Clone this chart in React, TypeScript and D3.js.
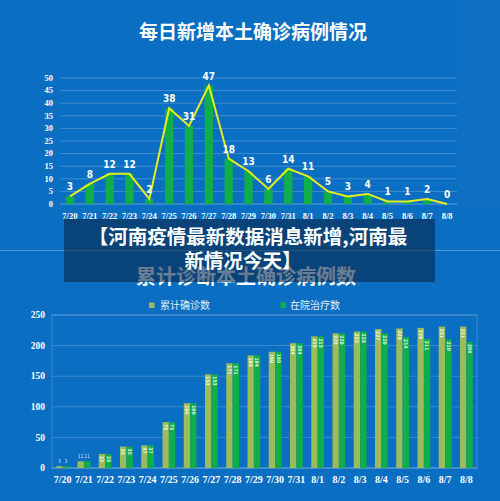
import React from "react";
import * as d3 from "d3";

const dates = ["7/20","7/21","7/22","7/23","7/24","7/25","7/26","7/27","7/28","7/29","7/30","7/31","8/1","8/2","8/3","8/4","8/5","8/6","8/7","8/8"];
const dailyNew = [3,8,12,12,2,38,31,47,18,13,6,14,11,5,3,4,1,1,2,0];
const cumulative = [3,11,23,35,37,75,106,153,171,184,190,204,215,220,223,227,228,229,231,231];
const inHospital = [3,11,23,35,37,75,106,153,171,184,190,204,215,220,223,220,214,211,210,206];
const topTicks = [0,5,10,15,20,25,30,35,40,45,50];
const bottomTicks = [0,50,100,150,200,250];
const titleTop = "每日新增本土确诊病例情况";
const titleBottom = "累计诊断本土确诊病例数";
const legendNames = ["累计确诊数", "在院治疗数"];
const bannerLines = ["【河南疫情最新数据消息新增,河南最", "新情况今天】"];

const BG = "#0a6ec2";
const GREEN = "#0fae4b";
const OLIVE = "#9cbb5a";
const YELLOW = "#e6ef1e";
const SERIF = "'Liberation Serif', 'DejaVu Serif', serif";
const NARROW = "'DejaVu Sans Condensed', 'DejaVu Sans', sans-serif";
const CJK = "'Noto Sans CJK SC', sans-serif";

export default function App() {
  const W = 500, H = 501;
  const xTop = d3.scaleBand<string>().domain(dates).range([60, 457]);
  const yTop = d3.scaleLinear().domain([0, 50]).range([204, 78]);
  const xBot = d3.scaleBand<string>().domain(dates).range([52, 477]);
  const yBot = d3.scaleLinear().domain([0, 250]).range([468, 315]);

  const lineGen = d3.line<number>()
    .x((_, i) => (xTop(dates[i]) as number) + xTop.bandwidth() / 2)
    .y((d) => yTop(d));

  const topBarW = xTop.bandwidth() * 0.42;
  const botBarW = xBot.bandwidth() * 0.3;

  const barLabel = (x: number, top: number, v: number, key: string) => {
    const h = yBot(0) - top;
    if (h < 14) {
      return (
        <text key={key} x={x} y={top - 3} fontSize={5} fill="#fff" fillOpacity={0.85}
          textAnchor="middle" fontFamily={NARROW}>{v}</text>
      );
    }
    return (
      <text key={key} transform={`translate(${x - 1.8},${top + 2}) rotate(90)`} fontSize={5}
        fill="#fff" fillOpacity={0.9} fontFamily={NARROW} fontWeight="bold">{v}</text>
    );
  };

  return (
    <svg width={W} height={H} style={{ position: "absolute", left: 0, top: 0 }}>
      <rect x={0} y={0} width={W} height={H} fill={BG} />
      <rect x={457} y={0} width={43} height={210} fill="#ffffff" fillOpacity={0.02} />

      <text x={253} y={39} textAnchor="middle" fontSize={19} fontWeight="bold" fill="#fff"
        fontFamily={CJK}>{titleTop}</text>

      {topTicks.map((t) => (
        <g key={"tg" + t}>
          <line x1={60} x2={457} y1={yTop(t)} y2={yTop(t)} stroke="#ffffff"
            strokeOpacity={t === 0 ? 0.35 : 0.22} strokeWidth={1} />
          <text x={53} y={yTop(t)} dy="0.33em" textAnchor="end" fontSize={8.5}
            fontWeight="bold" fill="#fff" fontFamily={SERIF}>{t}</text>
        </g>
      ))}

      {dailyNew.map((v, i) => {
        const cx = (xTop(dates[i]) as number) + xTop.bandwidth() / 2;
        return (
          <rect key={"tb" + i} x={cx - topBarW / 2} y={yTop(v)} width={topBarW}
            height={yTop(0) - yTop(v)} fill={GREEN} />
        );
      })}
      <path d={lineGen(dailyNew) || ""} fill="none" stroke={YELLOW} strokeWidth={2} />
      {dailyNew.map((v, i) => {
        const cx = (xTop(dates[i]) as number) + xTop.bandwidth() / 2;
        return (
          <text key={"tl" + i} x={cx} y={yTop(v) - 6} textAnchor="middle" fontSize={10}
            fontWeight="bold" fill="#fff" fontFamily={NARROW} style={{ fontStretch: "condensed" }}>{v}</text>
        );
      })}
      {dates.map((d) => (
        <text key={"tx" + d} x={(xTop(d) as number) + xTop.bandwidth() / 2} y={219}
          textAnchor="middle" fontSize={8.5} fontWeight="bold" fill="#fff"
          fontFamily={SERIF}>{d}</text>
      ))}

      <line x1={0} x2={W} y1={250.5} y2={250.5} stroke="#ffffff" strokeOpacity={0.3} />

      <text x={246} y={284} textAnchor="middle" fontSize={20} fontWeight="bold" fill="#fff"
        fontFamily={CJK}>{titleBottom}</text>

      <rect x={149} y={302.5} width={5.5} height={5.5} fill={OLIVE} />
      <text x={160} y={309} fontSize={10} fill="#e6eef8" fontFamily={CJK}>{legendNames[0]}</text>
      <rect x={280.5} y={302.5} width={5.5} height={5.5} fill={GREEN} />
      <text x={290} y={309} fontSize={10} fill="#e6eef8" fontFamily={CJK}>{legendNames[1]}</text>

      <rect x={52} y={315} width={425} height={153} fill="none" stroke="#ffffff" strokeOpacity={0.2} />
      {bottomTicks.map((t) => (
        <g key={"bg" + t}>
          <line x1={52} x2={477} y1={yBot(t)} y2={yBot(t)} stroke="#ffffff"
            strokeOpacity={t === 0 ? 0.3 : 0.2} />
          <text x={45} y={yBot(t)} dy="0.33em" textAnchor="end" fontSize={9.5}
            fontWeight="bold" fill="#fff" fontFamily={SERIF}>{t}</text>
        </g>
      ))}
      {dates.map((d, i) => {
        const cx = (xBot(d) as number) + xBot.bandwidth() / 2;
        const c = cumulative[i], h = inHospital[i];
        return (
          <g key={"bb" + i}>
            <rect x={cx - botBarW} y={yBot(c)} width={botBarW} height={yBot(0) - yBot(c)} fill={OLIVE} />
            <rect x={cx} y={yBot(h)} width={botBarW} height={yBot(0) - yBot(h)} fill={GREEN} />
            {barLabel(cx - botBarW / 2, yBot(c), c, "lc" + i)}
            {barLabel(cx + botBarW / 2, yBot(h), h, "lh" + i)}
          </g>
        );
      })}
      {dates.map((d) => (
        <text key={"bx" + d} x={(xBot(d) as number) + xBot.bandwidth() / 2} y={483}
          textAnchor="middle" fontSize={10} fontWeight="bold" fill="#fff"
          fontFamily={SERIF}>{d}</text>
      ))}

      <rect x={64} y={219} width={371} height={63} fill="#06264a" fillOpacity={0.6} />
      <text x={248} y={244} textAnchor="middle" fontSize={19.5} fontWeight="bold" fill="#fff"
        fontFamily={CJK}>{bannerLines[0]}</text>
      <text x={243} y={267.5} textAnchor="middle" fontSize={19.5} fontWeight="bold" fill="#fff"
        fontFamily={CJK}>{bannerLines[1]}</text>
    </svg>
  );
}
